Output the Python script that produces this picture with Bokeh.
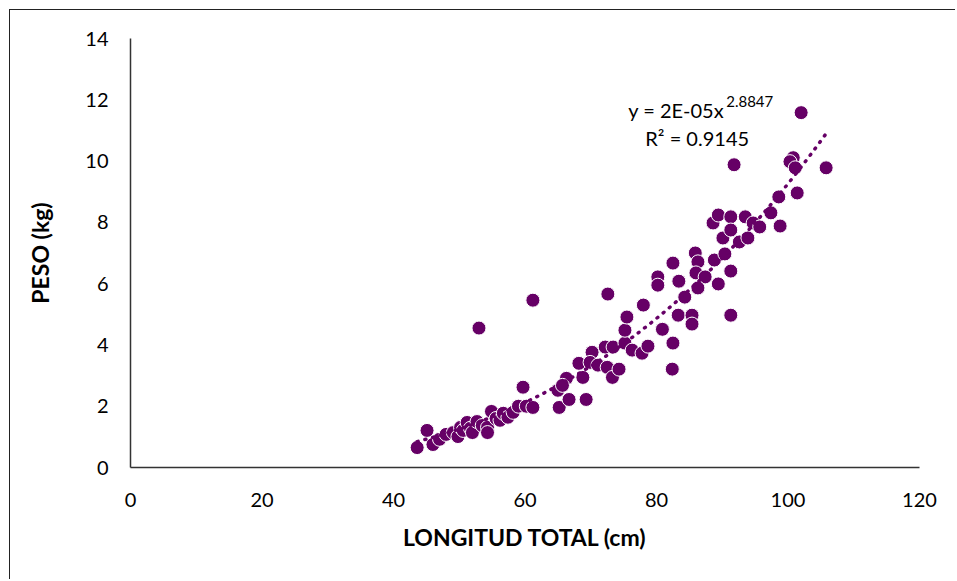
import numpy as np
from bokeh.plotting import figure
from bokeh.models import Label, ColumnDataSource, FixedTicker
from bokeh.embed import file_html
from bokeh.resources import INLINE

# Data
longitud = [43.6, 45.1, 46.0, 47.0, 48.0, 49.1, 49.8, 50.2, 50.6, 51.2, 51.7, 52.0, 52.7, 53.5,
            54.3, 54.3, 54.9, 55.6, 56.2, 56.7, 57.4, 58.2, 59.0, 59.7, 60.2, 61.2, 53.0, 61.2,
            65.2, 66.7, 69.3, 66.3, 65.0, 65.7, 68.8, 68.2, 70.2, 69.9, 71.1, 72.5, 73.3, 74.3,
            72.2, 73.4, 75.2, 76.3, 77.8, 78.7, 75.2, 75.5, 72.6, 78.0, 80.9, 82.5, 82.4, 83.3,
            84.3, 85.4, 85.4, 80.2, 80.2, 82.5, 83.4, 85.9, 86.3, 86.0, 87.4, 86.3, 88.8, 89.4,
            90.4, 91.3, 91.3, 90.1, 88.6, 89.4, 91.3, 91.3, 92.6, 93.9, 93.5, 94.7, 95.7, 97.4,
            98.8, 98.6, 101.4, 100.8, 100.3, 101.1, 105.8, 91.8, 102.0]
peso = [0.65, 1.21, 0.75, 0.92, 1.08, 1.14, 1.01, 1.31, 1.21, 1.47, 1.28, 1.14, 1.50, 1.37,
        1.31, 1.14, 1.83, 1.60, 1.54, 1.77, 1.64, 1.80, 2.00, 2.62, 2.00, 1.96, 4.55, 5.46,
        1.96, 2.22, 2.22, 2.91, 2.52, 2.68, 2.94, 3.40, 3.76, 3.43, 3.34, 3.27, 2.94, 3.21,
        3.93, 3.93, 4.06, 3.83, 3.73, 3.96, 4.48, 4.91, 5.66, 5.30, 4.51, 4.06, 3.21, 4.97,
        5.56, 4.97, 4.68, 6.22, 5.95, 6.67, 6.08, 7.00, 6.71, 6.35, 6.22, 5.86, 6.77, 5.99,
        6.97, 6.41, 4.97, 7.49, 7.98, 8.24, 8.18, 7.75, 7.36, 7.49, 8.18, 7.98, 7.85, 8.31,
        7.88, 8.83, 8.96, 10.11, 9.98, 9.78, 9.78, 9.88, 11.58]

# Power trend line parameters (Excel: y = 2E-05x^2.8847)
coef_a = 1.575e-5
coef_b = 2.8847
r2_text = "R\u00b2 = 0.9145"
eq_main = "y = 2E-05x"
eq_exp = "2.8847"

x_ticks = [0, 20, 40, 60, 80, 100, 120]
y_ticks = [0, 2, 4, 6, 8, 10, 12, 14]

purple = "#660066"
font = "Lato"

p = figure(width=946, height=570, output_backend="svg", toolbar_location=None,
           x_range=(0, 120), y_range=(0, 14),
           min_border_left=120, min_border_right=37, min_border_top=28, min_border_bottom=113)
p.styles = {"border-left": "1.5px solid #222222", "border-top": "1.5px solid #222222",
            "margin-left": "9px", "margin-top": "9px"}
p.outline_line_color = None
p.xgrid.visible = False
p.ygrid.visible = False
p.background_fill_color = "white"
p.border_fill_color = "white"

for ax in (p.xaxis[0], p.yaxis[0]):
    ax.major_tick_in = 0
    ax.major_tick_out = 0
    ax.minor_tick_in = 0
    ax.minor_tick_out = 0
    ax.axis_line_color = "#333333"
    ax.axis_line_width = 1.5
    ax.major_label_text_font = font
    ax.major_label_text_font_size = "20px"
    ax.major_label_text_color = "#000000"
    ax.axis_label_text_font = font
    ax.axis_label_text_font_size = "23px"
    ax.axis_label_text_font_style = "bold"
    ax.axis_label_text_color = "#000000"

p.xaxis.ticker = FixedTicker(ticks=x_ticks)
p.yaxis.ticker = FixedTicker(ticks=y_ticks)
p.xaxis.axis_label = "LONGITUD TOTAL (cm)"
p.yaxis.axis_label = "PESO (kg)"
p.xaxis.major_label_standoff = 25
p.yaxis.major_label_standoff = 22
p.xaxis.axis_label_standoff = 13
p.yaxis.axis_label_standoff = 28

src = ColumnDataSource(data=dict(x=longitud, y=peso))
p.scatter("x", "y", source=src, size=14, fill_color=purple, line_color="white", line_width=1)

tx = np.linspace(min(longitud), max(longitud), 200)
ty = coef_a * tx ** coef_b
p.line(tx, ty, line_color=purple, line_width=3.5, line_dash="1 7", line_cap="round")

p.add_layout(Label(x=75.7, y=11.68, text=eq_main, text_font=font, text_font_size="20px",
                   text_baseline="middle", text_color="#000000"))
p.add_layout(Label(x=90.6, y=11.93, text=eq_exp, text_font=font, text_font_size="15px",
                   text_baseline="middle", text_color="#000000"))
p.add_layout(Label(x=78.3, y=10.76, text=r2_text, text_font=font, text_font_size="20px",
                   text_baseline="middle", text_color="#000000"))

open("out.html", "w").write(file_html(p, INLINE))
